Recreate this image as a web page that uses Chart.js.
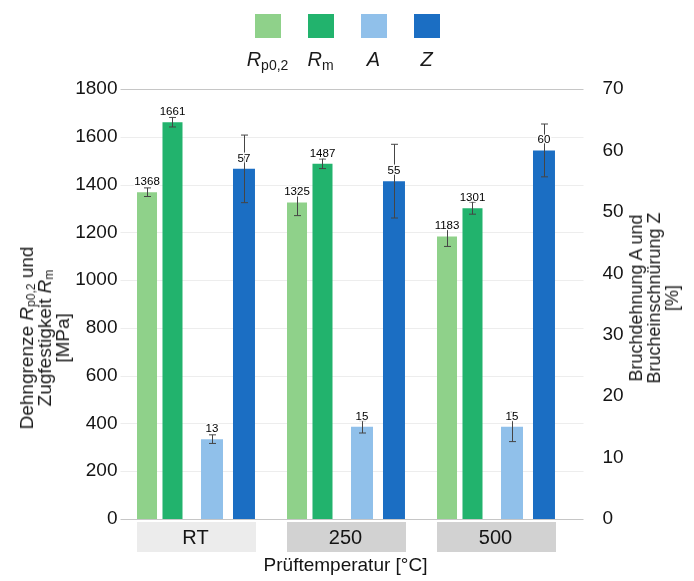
<!DOCTYPE html>
<html>
<head>
<meta charset="utf-8">
<script src="https://cdn.jsdelivr.net/npm/chart.js@4.4.0/dist/chart.umd.min.js"></script>
<style>
  html, body { margin: 0; padding: 0; background: #fff; }
  #wrap { position: relative; width: 694px; height: 581px; font-family: "Liberation Sans", Arial, sans-serif; color: #1a1a1a; }
  #chart { position: absolute; left: 0; top: 0; }
  #legend { position: absolute; left: 241px; top: 14px; width: 212px; display: flex; }
  .item { width: 53px; text-align: center; }
  .swatch { width: 26px; height: 24px; margin: 0 auto; }
  .sym { font-style: italic; font-size: 20px; line-height: 22px; margin-top: 10px; }
  .sym sub { font-size: 14px; font-style: normal; vertical-align: -4px; line-height: 0; }
  .ytitle { position: absolute; white-space: nowrap; text-align: center; font-size: 19px; line-height: 18px;
            transform: translate(-50%, -50%) rotate(-90deg); }
  .ytitle i { font-style: italic; }
  .ytitle sub { font-size: 12px; vertical-align: -2px; line-height: 0; }
  #titleLeft { left: 45px; top: 338px; }
  #titleRight { left: 654px; top: 298px; font-size: 18px; line-height: 18px; }
</style>
</head>
<body>
<div id="wrap">
  <canvas id="chart" width="694" height="581"></canvas>
  <div id="legend"></div>
  <div class="ytitle" id="titleLeft">Dehngrenze <i>R</i><sub>p0,2</sub> und<br>Zugfestigkeit <i>R</i><sub>m</sub><br>[MPa]</div>
  <div class="ytitle" id="titleRight">Bruchdehnung A und<br>Brucheinschnürung Z<br>[%]</div>
</div>
<script>
// Prüftemperaturen
var categories = ['RT', '250', '500'];

// Festigkeit [MPa] (linke Achse)
var rp02 = [1368, 1325, 1183];
var rp02Err = [18, 55, 42];
var rm = [1661, 1487, 1301];
var rmErr = [20, 20, 25];

// Duktilität [%] (rechte Achse)
var bruchdehnung = [13, 15, 15];
var bruchdehnungErr = [0.7, 1, 2.4];
var einschnuerung = [57, 55, 60];
var einschnuerungErr = [5.5, 6, 4.3];

// Achsen
var leftMax = 1800, leftStep = 200;
var rightMax = 70, rightStep = 10;

var legendSymbols = [['R', 'p0,2'], ['R', 'm'], ['A', ''], ['Z', '']];
var boxColors = ['#ececec', '#d2d2d2', '#d2d2d2'];

var chartApp = (function () {
    var font = '"Liberation Sans", Arial, sans-serif';
    var textColor = '#141414';

    // graue Kästen hinter den Kategorien
    var categoryBoxes = {
        id: 'categoryBoxes',
        beforeDraw: function (chart) {
            var ctx = chart.ctx;
            var x = chart.scales.x;
            var bottom = chart.chartArea.bottom;
            ctx.save();
            for (var i = 0; i < categories.length; ++i) {
                var cx = x.getPixelForValue(i) + 1;
                ctx.fillStyle = boxColors[i];
                ctx.fillRect(cx - 59.5, bottom + 3, 119, 30);
            }
            ctx.restore();
        }
    };

    // Gitterlinien, etwas über den rechten Rand hinaus
    var gridLines = {
        id: 'gridLines',
        beforeDatasetsDraw: function (chart) {
            var ctx = chart.ctx;
            var y = chart.scales.y;
            var area = chart.chartArea;
            ctx.save();
            ctx.lineWidth = 1;
            y.ticks.forEach(function (t) {
                var py = Math.round(y.getPixelForValue(t.value)) + 0.5;
                ctx.strokeStyle = (t.value === 0 || t.value === leftMax) ? '#c6c6c6' : '#ededed';
                ctx.beginPath();
                ctx.moveTo(area.left, py);
                ctx.lineTo(area.right + 13, py);
                ctx.stroke();
            });
            ctx.restore();
        }
    };

    // Fehlerbalken und Wertebeschriftung
    var errorBars = {
        id: 'errorBars',
        afterDatasetsDraw: function (chart) {
            var ctx = chart.ctx;
            ctx.save();
            ctx.strokeStyle = '#454545';
            ctx.lineWidth = 1;
            chart.data.datasets.forEach(function (ds, i) {
                var meta = chart.getDatasetMeta(i);
                var scale = chart.scales[ds.yAxisID];
                meta.data.forEach(function (bar, j) {
                    var top = scale.getPixelForValue(ds.data[j] + ds.errors[j]);
                    var bottom = scale.getPixelForValue(ds.data[j] - ds.errors[j]);
                    var bx = Math.round(bar.x) + 0.5;
                    ctx.beginPath();
                    ctx.moveTo(bx, top); ctx.lineTo(bx, bottom);
                    ctx.moveTo(bx - 3.5, top); ctx.lineTo(bx + 3.5, top);
                    ctx.moveTo(bx - 3.5, bottom); ctx.lineTo(bx + 3.5, bottom);
                    ctx.stroke();
                });
            });
            ctx.font = '11.5px ' + font;
            ctx.textAlign = 'center';
            ctx.textBaseline = 'alphabetic';
            ctx.lineJoin = 'round';
            chart.data.datasets.forEach(function (ds, i) {
                var meta = chart.getDatasetMeta(i);
                meta.data.forEach(function (bar, j) {
                    var txt = String(ds.data[j]);
                    ctx.lineWidth = 3;
                    ctx.strokeStyle = 'rgba(255,255,255,0.9)';
                    ctx.strokeText(txt, bar.x, bar.y - 7);
                    ctx.fillStyle = '#000';
                    ctx.fillText(txt, bar.x, bar.y - 7);
                });
            });
            ctx.restore();
        }
    };

    var datasets = [
        { label: 'Rp0,2', data: rp02, errors: rp02Err, yAxisID: 'y', backgroundColor: '#8fd18a',
          categoryPercentage: 0.862, barPercentage: 0.619 },
        { label: 'Rm', data: rm, errors: rmErr, yAxisID: 'y', backgroundColor: '#22b36d',
          categoryPercentage: 1.227, barPercentage: 0.435 },
        { label: 'A', data: bruchdehnung, errors: bruchdehnungErr, yAxisID: 'y1', backgroundColor: '#90c0ea',
          categoryPercentage: 0.88, barPercentage: 0.667 },
        { label: 'Z', data: einschnuerung, errors: einschnuerungErr, yAxisID: 'y1', backgroundColor: '#1b6ec3',
          categoryPercentage: 0.862, barPercentage: 0.68 }
    ];

    var buildLegend = function () {
        var html = '';
        for (var i = 0; i < datasets.length; ++i) {
            var s = legendSymbols[i];
            html += '<div class="item"><div class="swatch" style="background:' + datasets[i].backgroundColor + '"></div>' +
                    '<div class="sym">' + s[0] + (s[1] ? '<sub>' + s[1] + '</sub>' : '') + '</div></div>';
        }
        document.getElementById('legend').innerHTML = html;
    };

    var plainNumber = function (value) { return String(value); };

    var init = function () {
        buildLegend();
        var ctx = document.getElementById('chart');
        return new Chart(ctx, {
            type: 'bar',
            data: { labels: categories, datasets: datasets },
            plugins: [categoryBoxes, gridLines, errorBars],
            options: {
                responsive: false,
                animation: false,
                layout: { padding: { top: 89, left: 0, right: 0, bottom: 0 } },
                plugins: { legend: { display: false }, tooltip: { enabled: false } },
                scales: {
                    x: {
                        grid: { display: false, drawTicks: false },
                        border: { display: false },
                        ticks: { color: textColor, font: { family: font, size: 20 }, padding: 7 },
                        title: { display: true, text: 'Prüftemperatur [°C]', color: textColor,
                                 font: { family: font, size: 19 }, padding: { top: 0, bottom: 4 } },
                        afterFit: function (scale) { scale.height = 62; }
                    },
                    y: {
                        position: 'left', min: 0, max: leftMax,
                        grid: { display: false, drawTicks: false },
                        border: { display: false },
                        ticks: { stepSize: leftStep, color: textColor, font: { family: font, size: 19 }, padding: 3,
                                 callback: plainNumber },
                        afterFit: function (scale) { scale.width = 120.5; }
                    },
                    y1: {
                        position: 'right', min: 0, max: rightMax,
                        grid: { display: false, drawTicks: false },
                        border: { display: false },
                        ticks: { stepSize: rightStep, color: textColor, font: { family: font, size: 19 }, padding: 32,
                                 callback: plainNumber },
                        afterFit: function (scale) { scale.width = 123.5; }
                    }
                }
            }
        });
    };

    return { chart: init() };
})();
</script>
</body>
</html>
